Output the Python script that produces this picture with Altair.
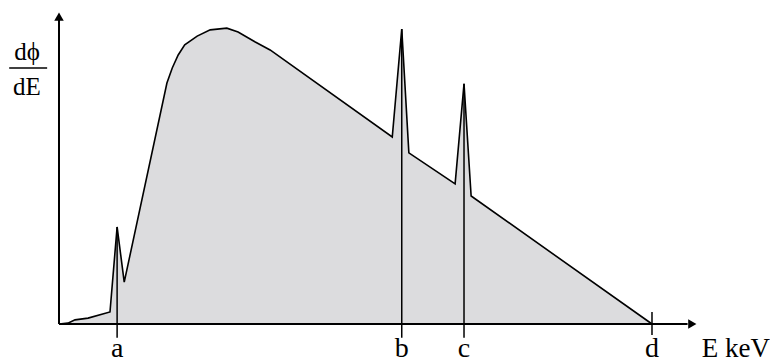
import altair as alt
import pandas as pd

# Spectrum curve (x: energy in % of d, y: intensity in % of peak b)
curve_x = [0, 1.5, 2.7, 4.9, 8.6, 9.8, 11.0, 18.2, 19.1, 20.1, 21.2, 23.3, 25.5, 28.3,
           30.2, 33.1, 35.6, 56.2, 57.8, 59.0, 66.8, 68.3, 69.5, 100]
curve_y = [0, 0.3, 1.4, 2.0, 4.1, 32.9, 14.2, 81.7, 86.8, 91.2, 94.6, 97.6, 99.7, 100.3,
           99.0, 95.6, 92.9, 63.4, 100, 58.0, 47.5, 81.4, 43.4, 0]

# Marker lines
marker_labels = ["a", "b", "c"]
marker_x = [9.8, 57.8, 68.3]
marker_top = [32.9, 100, 81.4]

tick_label = "d"
tick_x = 100

axis_label_x = "E keV"
axis_label_y_num = "d\u03d5"
axis_label_y_den = "dE"

# scale geometry
XMIN, XMAX = -8.60, 119.90
YMAX = 107.12
H = 354
YMIN = YMAX - H / 2.95

xs = alt.Scale(domain=[XMIN, XMAX], nice=False, zero=False)
ys = alt.Scale(domain=[YMIN, YMAX], nice=False, zero=False)

curve = pd.DataFrame({"x": curve_x, "y": curve_y})
markers = pd.DataFrame({"x": marker_x, "top": marker_top, "bot": [-4.7] * 3, "label": marker_labels})

base = alt.Chart(curve)

area = base.mark_area(color="#dcdcde", opacity=1).encode(
    x=alt.X("x:Q", scale=xs, axis=None), y=alt.Y("y:Q", scale=ys, axis=None))
line = base.mark_line(color="black", strokeWidth=1.6).encode(
    x=alt.X("x:Q", scale=xs, axis=None), y=alt.Y("y:Q", scale=ys, axis=None))

vlines = alt.Chart(markers).mark_rule(color="black", strokeWidth=1.5).encode(
    x=alt.X("x:Q", scale=xs), y=alt.Y("top:Q", scale=ys), y2="bot:Q")

dtick = alt.Chart(pd.DataFrame({"x": [tick_x], "y1": [4.1], "y2": [-3.7]})).mark_rule(
    color="black", strokeWidth=1.5).encode(
    x=alt.X("x:Q", scale=xs), y=alt.Y("y1:Q", scale=ys), y2="y2:Q")

# axes
axes_df = pd.DataFrame({"x1": [0, 0], "x2": [0, 106.0], "y1": [0, 0], "y2": [104.0, 0]})
axes = alt.Chart(axes_df).mark_rule(color="black", strokeWidth=2).encode(
    x=alt.X("x1:Q", scale=xs), x2="x2:Q", y=alt.Y("y1:Q", scale=ys), y2="y2:Q")

arrow_up = alt.Chart(pd.DataFrame({"x": [0], "y": [104.2]})).mark_point(
    shape="triangle-up", filled=True, color="black", fill="black", opacity=1, size=90,
    strokeWidth=0).encode(x=alt.X("x:Q", scale=xs), y=alt.Y("y:Q", scale=ys))
arrow_right = alt.Chart(pd.DataFrame({"x": [106.8], "y": [0]})).mark_point(
    shape="triangle-right", filled=True, color="black", fill="black", opacity=1, size=90,
    strokeWidth=0).encode(x=alt.X("x:Q", scale=xs), y=alt.Y("y:Q", scale=ys))

font = "Liberation Serif"
BASE_Y = -11.3
labels_df = pd.DataFrame({"x": marker_x + [tick_x], "y": [BASE_Y] * 4,
                          "t": marker_labels + [tick_label]})
labels = alt.Chart(labels_df).mark_text(font=font, fontSize=28, baseline="alphabetic",
                                        align="center", color="black").encode(
    x=alt.X("x:Q", scale=xs), y=alt.Y("y:Q", scale=ys), text="t:N")

xlab = alt.Chart(pd.DataFrame({"x": [108.4], "y": [BASE_Y], "t": [axis_label_x]})).mark_text(
    font=font, fontSize=27, baseline="alphabetic", align="left", color="black").encode(
    x=alt.X("x:Q", scale=xs), y=alt.Y("y:Q", scale=ys), text="t:N")

ylab = alt.Chart(pd.DataFrame({"x": [-5.4, -5.4], "y": [89.5, 77.6],
                               "t": [axis_label_y_num, axis_label_y_den]})).mark_text(
    font=font, fontSize=25, baseline="alphabetic", align="center", color="black").encode(
    x=alt.X("x:Q", scale=xs), y=alt.Y("y:Q", scale=ys), text="t:N")

bar = alt.Chart(pd.DataFrame({"x1": [-8.4], "x2": [-2.0], "y": [86.8]})).mark_rule(
    color="black", strokeWidth=1.5).encode(
    x=alt.X("x1:Q", scale=xs), x2="x2:Q", y=alt.Y("y:Q", scale=ys))

chart = alt.layer(area, line, vlines, dtick, axes, arrow_up, arrow_right, labels, xlab, ylab, bar).properties(
    width=762, height=H, autosize=alt.AutoSizeParams(type="none"), padding=0,
    background="white"
).configure_view(stroke=None)

chart.save("out.html", embed_options={"renderer": "svg", "actions": False})
